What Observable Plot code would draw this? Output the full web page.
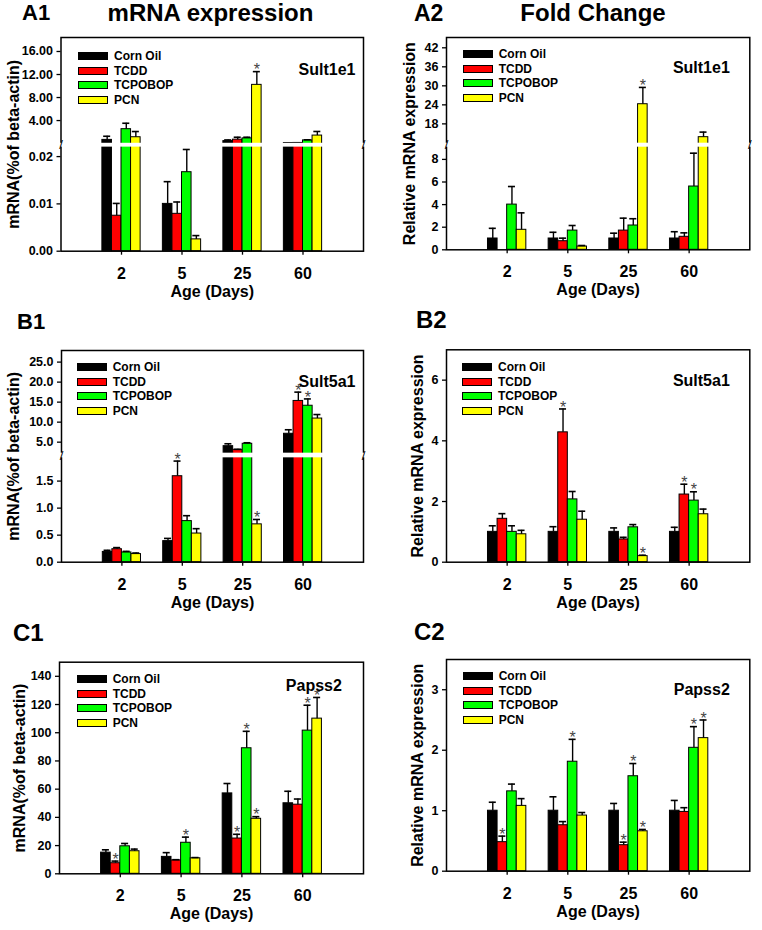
<!DOCTYPE html>
<html><head><meta charset="utf-8">
<script src="https://cdn.jsdelivr.net/npm/d3@7"></script>
<script src="https://cdn.jsdelivr.net/npm/@observablehq/plot@0.6"></script>
<style>
body{margin:0;background:#fff;}
#fig{position:relative;width:762px;height:930px;font-family:"Liberation Sans",Arial,sans-serif;overflow:hidden;background:#fff;}
.pnl{position:absolute;}
.hdr{position:absolute;font-weight:bold;white-space:nowrap;line-height:1;color:#000;}
.lg{position:absolute;font-weight:bold;font-size:12px;color:#000;}
.lg .row{display:flex;align-items:center;height:14.5px;white-space:nowrap;}
.lg .sw{width:30px;height:8px;border:1.5px solid #000;box-sizing:border-box;margin-right:6px;}
</style></head><body><div id="fig"></div><script>
const ages = ["2", "5", "25", "60"];
const treatments = ["Corn Oil", "TCDD", "TCPOBOP", "PCN"];
const colors = ["#000000", "#ff0000", "#00ff00", "#ffff00"];

// rows: Corn Oil, TCDD, TCPOBOP, PCN ; columns: age 2, 5, 25, 60 days
const sult1e1Mrna    = [[0.64, 0.0100, 0.43, 0.10], [0.0075, 0.0079, 0.68, 0.11], [2.5, 0.0167, 0.90, 0.55], [1.10, 0.0025, 10.2, 1.39]];
const sult1e1MrnaSE  = [[0.63, 0.0047, 0.20, 0.02], [0.0026, 0.0025, 0.42, 0.02], [1.03, 0.0048, 0.20, 0.10], [0.99, 0.0008, 2.3, 0.71]];
const sult1e1MrnaSig = [[0,0,0,0],[0,0,0,0],[0,0,0,0],[0,0,1,0]];

const sult1e1Fold    = [[1.0, 1.0, 1.0, 1.0], [0, 0.76, 1.70, 1.15], [4.0, 1.70, 2.15, 5.6], [1.77, 0.29, 24.2, 13.8]];
const sult1e1FoldSE  = [[0.9, 0.55, 0.47, 0.6], [0, 0.27, 1.1, 0.35], [1.6, 0.45, 0.6, 2.95], [1.5, 0.09, 5.3, 1.6]];
const sult1e1FoldSig = [[0,0,0,0],[0,0,0,0],[0,0,0,0],[0,0,1,0]];

const sult5a1Mrna    = [[0.19, 0.39, 4.0, 7.1], [0.24, 1.59, 3.1, 15.3], [0.18, 0.76, 4.6, 14.1], [0.15, 0.53, 0.70, 10.9]];
const sult5a1MrnaSE  = [[0.03, 0.05, 0.6, 1.0], [0.03, 0.28, 0.1, 2.2], [0.02, 0.10, 0.25, 1.7], [0.02, 0.09, 0.09, 1.0]];
const sult5a1MrnaSig = [[0,0,0,0],[0,1,0,1],[0,0,0,1],[0,0,1,0]];

const sult5a1Fold    = [[1.0, 1.0, 1.0, 1.0], [1.43, 4.28, 0.75, 2.23], [1.0, 2.07, 1.15, 2.03], [0.92, 1.40, 0.20, 1.58]];
const sult5a1FoldSE  = [[0.20, 0.17, 0.13, 0.15], [0.17, 0.77, 0.07, 0.34], [0.20, 0.26, 0.09, 0.29], [0.13, 0.28, 0.03, 0.17]];
const sult5a1FoldSig = [[0,0,0,0],[0,1,0,1],[0,0,0,1],[0,0,1,0]];

const papss2Mrna     = [[15, 12, 57, 50], [7.5, 9.5, 25, 49], [19.5, 22, 89, 101.5], [16, 11, 39, 110]];
const papss2MrnaSE   = [[2, 3, 7, 8.5], [1.5, 0.5, 3, 4], [2, 4, 12, 18], [1.5, 0.5, 1.5, 15]];
const papss2MrnaSig  = [[0,0,0,0],[1,0,1,0],[0,1,1,1],[0,0,1,1]];

const papss2Fold     = [[1.0, 1.0, 1.0, 1.0], [0.48, 0.76, 0.43, 0.98], [1.32, 1.81, 1.57, 2.04], [1.08, 0.92, 0.66, 2.20]];
const papss2FoldSE   = [[0.14, 0.23, 0.12, 0.17], [0.10, 0.06, 0.05, 0.07], [0.12, 0.37, 0.21, 0.35], [0.12, 0.05, 0.03, 0.30]];
const papss2FoldSig  = [[0,0,0,0],[1,0,1,0],[0,1,1,1],[0,0,1,1]];

const mrnaLabel = "mRNA(%of beta-actin)";
const foldLabel = "Relative mRNA expression";
const xLabel = "Age (Days)";

const panels = [
  {left: 0, top: 0, m: [37, 18, 59.3, 60.5], mean: sult1e1Mrna, se: sult1e1MrnaSE, sig: sult1e1MrnaSig,
   domain: [0, 0.022, 0.05, 18.43], brk: [0.487, 0.505], ticks: [0, 0.01, 0.02, 4, 8, 12, 16], fmt: d3.format(".2f"),
   ylabel: mrnaLabel, ldx: -47.2, gene: "Sult1e1", gdx: 8, gdy: 25.7, lg: [17.5, 19]},
  {left: 381, top: 0, m: [37, 12.7, 60.7, 65], mean: sult1e1Fold, se: sult1e1FoldSE, sig: sult1e1FoldSig,
   domain: [0, 9.08, 11.9, 45.25], brk: [0.4833, 0.5021], ticks: [0, 2, 4, 6, 8, 18, 24, 30, 36, 42], fmt: d3.format("d"),
   ylabel: foldLabel, ldx: -36.7, gene: "Sult1e1", gdx: 20, gdy: 24, lg: [16.7, 17.3]},
  {left: 0, top: 310, m: [40, 18, 58.3, 61], mean: sult5a1Mrna, se: sult5a1MrnaSE, sig: sult5a1MrnaSig,
   domain: [0, 1.93, 2.25, 27.9], brk: [0.493, 0.515], ticks: [0, 0.5, 1, 1.5, 5, 10, 15, 20, 25], fmt: d3.format(".1f"),
   ylabel: mrnaLabel, ldx: -47.7, gene: "Sult5a1", gdx: 8, gdy: 25, lg: [15.7, 17.3]},
  {left: 381, top: 310, m: [39.3, 12.7, 58.3, 65], mean: sult5a1Fold, se: sult5a1FoldSE, sig: sult5a1FoldSig,
   domain: [0, 7], ticks: [0, 2, 4, 6], fmt: d3.format("d"),
   ylabel: foldLabel, ldx: -28.3, gene: "Sult5a1", gdx: 20, gdy: 25, lg: [16, 18]},
  {left: 0, top: 620, m: [41.7, 18, 56.7, 59], mean: papss2Mrna, se: papss2MrnaSE, sig: papss2MrnaSig,
   domain: [0, 150], ticks: [0, 20, 40, 60, 80, 100, 120, 140], fmt: d3.format("d"),
   ylabel: mrnaLabel, ldx: -40, gene: "Papss2", gdx: 21.6, gdy: 17.3, lg: [17.7, 17.3]},
  {left: 381, top: 620, m: [39, 12.7, 59.3, 65], mean: papss2Fold, se: papss2FoldSE, sig: papss2FoldSig,
   domain: [0, 3.5], ticks: [0, 1, 2, 3], fmt: d3.format("d"),
   ylabel: foldLabel, ldx: -29, gene: "Papss2", gdx: 20, gdy: 23.7, lg: [16.7, 17]}
];

const headers = [
  {text: "A1", x: 22, y: 13, size: 22, anchor: "start"},
  {text: "mRNA expression", x: 210.5, y: 13, size: 24, anchor: "middle"},
  {text: "A2", x: 414, y: 13, size: 23, anchor: "start"},
  {text: "Fold Change", x: 593, y: 13, size: 24, anchor: "middle"},
  {text: "B1", x: 17, y: 321.7, size: 22, anchor: "start"},
  {text: "B2", x: 416, y: 320, size: 24, anchor: "start"},
  {text: "C1", x: 13, y: 632.7, size: 24, anchor: "start"},
  {text: "C2", x: 414, y: 631.7, size: 24, anchor: "start"}
];

const fig = document.getElementById("fig");
const W = 381, H = 310, BW = 0.158, CAP = 0.058;

function buildPanel(p) {
  const [mt, mr, mb, ml] = p.m;
  const data = [];
  treatments.forEach((t, ti) => ages.forEach((a, ai) => {
    data.push({trt: t, ti, ai, v: p.mean[ti][ai], e: p.mean[ti][ai] + p.se[ti][ai], sig: p.sig[ti][ai]});
  }));
  const pos = d => d.ai + 1 + (d.ti - 1.5) * BW;
  const yb = H - mb, span = H - mb - mt;
  const range = p.domain.length === 4
    ? [yb, yb - span * p.brk[0], yb - span * p.brk[1], mt]
    : [yb, mt];
  const withErr = data.filter(d => d.e > d.v);
  const marks = [
    Plot.rect(data, {x1: d => pos(d) - BW / 2, x2: d => pos(d) + BW / 2, y1: 0, y2: "v", fill: "trt", stroke: "#000", strokeWidth: 1}),
    Plot.ruleX(withErr, {x: pos, y1: "v", y2: "e", stroke: "#000", strokeWidth: 1.4}),
    Plot.ruleY(withErr, {y: "e", x1: d => pos(d) - CAP, x2: d => pos(d) + CAP, stroke: "#000", strokeWidth: 1.6}),
    Plot.frame({stroke: "#000", strokeWidth: 1.5})
  ];
  if (p.domain.length === 4) {
    const lo = p.domain[1], hi = p.domain[2];
    marks.push(Plot.rect([p.domain], {x1: 0, x2: 5, y1: lo, y2: hi, fill: "white", insetLeft: -4, insetRight: -4}));
    const sl = [{x: 0, y: (lo + hi) / 2}, {x: 5, y: (lo + hi) / 2}];
    marks.push(Plot.text(sl, {x: "x", y: "y", text: () => "/", fontSize: 13, fill: "#000"}));
  }
  marks.push(
    Plot.text(data.filter(d => d.sig), {x: pos, y: "e", text: () => "*", dy: -1.5, fill: "#444", fontSize: 16}),
    Plot.axisY({ticks: p.ticks, tickFormat: p.fmt, tickSize: 4, tickPadding: 4, fontSize: 12.5, fontWeight: "bold", label: null, strokeWidth: 1.3}),
    Plot.axisX({ticks: [1, 2, 3, 4], tickFormat: i => ages[i - 1], tickSize: 4, tickPadding: 12, fontSize: 16, fontWeight: "bold", label: null, strokeWidth: 1.3}),
    Plot.text([p.ylabel], {frameAnchor: "left", rotate: -90, dx: p.ldx, text: d => d, textAnchor: "middle", fontSize: 16, fontWeight: "bold", fill: "#000"}),
    Plot.text([xLabel], {frameAnchor: "bottom", dy: 45.5, text: d => d, textAnchor: "middle", fontSize: 16, fontWeight: "bold", fill: "#000"}),
    Plot.text([p.gene], {frameAnchor: "top-right", dx: -p.gdx, dy: p.gdy, text: d => d, textAnchor: "end", fontSize: 16, fontWeight: "bold", fill: "#000"})
  );
  const svg = Plot.plot({
    width: W, height: H,
    marginTop: mt, marginRight: mr, marginBottom: mb, marginLeft: ml,
    x: {type: "linear", domain: [0, 5]},
    y: {type: "linear", domain: p.domain, range},
    color: {domain: treatments, range: colors},
    style: {fontFamily: "'Liberation Sans', Arial, sans-serif", background: "transparent", color: "#000", overflow: "visible"},
    marks
  });
  const holder = document.createElement("div");
  holder.className = "pnl";
  holder.style.left = p.left + "px";
  holder.style.top = p.top + "px";
  holder.appendChild(svg);
  fig.appendChild(holder);

  const lg = document.createElement("div");
  lg.className = "lg";
  lg.style.left = (p.left + ml + p.lg[0]) + "px";
  lg.style.top = (p.top + mt + p.lg[1] - 7.25) + "px";
  treatments.forEach((t, i) => {
    const row = document.createElement("div");
    row.className = "row";
    const sw = document.createElement("span");
    sw.className = "sw";
    sw.style.background = colors[i];
    const lab = document.createElement("span");
    lab.textContent = t;
    row.appendChild(sw); row.appendChild(lab);
    lg.appendChild(row);
  });
  fig.appendChild(lg);
}

panels.forEach(buildPanel);

headers.forEach(h => {
  const el = document.createElement("div");
  el.className = "hdr";
  el.textContent = h.text;
  el.style.fontSize = h.size + "px";
  el.style.top = (h.y - h.size * 0.49) + "px";
  el.style.left = h.x + "px";
  if (h.anchor === "middle") el.style.transform = "translateX(-50%)";
  fig.appendChild(el);
});
</script></body></html>
